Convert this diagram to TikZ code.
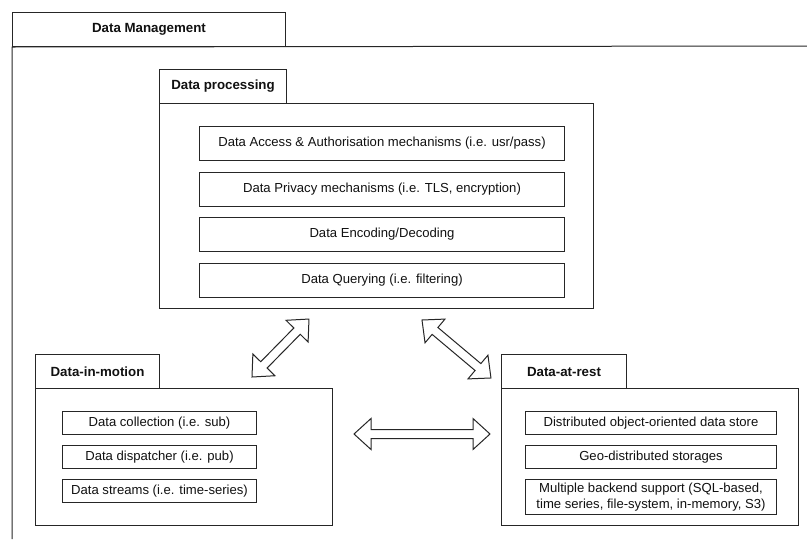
\documentclass[tikz,border=0pt]{standalone}
\usepackage{fontspec}
\setmainfont{Liberation Sans}
\usetikzlibrary{calc}
\definecolor{lineclr}{HTML}{262626}
\definecolor{textclr}{HTML}{111111}

% rectangle given by its top-left corner, width and height (y grows downwards)
\newcommand\boxat[7][]{%
  \node[frame, #1, anchor=north west, minimum width=#5pt, minimum height=#6pt]
    (#2) at (#3,#4) {#7};}

% hollow two-headed block arrow between two named coordinates
\newcommand\blockarrow[2]{%
  \draw[arrowshape] let \p1=($(#2)-(#1)$), \n1={atan2(\y1,\x1)}, \n2={veclen(\x1,\y1)} in
    [shift={(#1)}, rotate=\n1, y=1pt]
    (0,0) -- (17,15.5) -- (17,4.5) -- (\n2-17,4.5) -- (\n2-17,15.5) -- (\n2,0)
    -- (\n2-17,-15.5) -- (\n2-17,-4.5) -- (17,-4.5) -- (17,-15.5) -- cycle;}

\begin{document}
\begin{tikzpicture}[x=1pt, y=-1pt,
    font=\fontsize{13.1}{16.5}\selectfont, text=textclr,
    frame/.style={draw=lineclr, line width=1pt, fill=white, inner sep=0pt},
    tab/.style={font=\fontsize{13.3}{16}\selectfont\bfseries},
    arrowshape/.style={draw=lineclr, line width=1pt, fill=white, line join=miter}]
\useasboundingbox (0,0) rectangle (807,539);

% outer package: Data Management
\boxat[tab]{dmtab}{12}{12}{273}{34}{Data Management}
\coordinate (dmright) at (807,46);
\coordinate (dmbottom) at (12,539);
\draw[lineclr, line width=1pt] (dmright) -- (dmtab.south west) -- (dmbottom);

% Data processing package
\boxat[tab]{dptab}{159}{69}{127}{34}{Data processing}
\boxat{dp}{159}{103}{434}{205}{}
\boxat{dp1}{199}{126}{365}{34}{Data Access \& Authorisation mechanisms (i.e. usr/pass)}
\boxat{dp2}{199}{172}{365}{34}{Data Privacy mechanisms (i.e. TLS, encryption)}
\boxat{dp3}{199}{217}{365}{34}{Data Encoding/Decoding}
\boxat{dp4}{199}{263}{365}{34}{Data Querying (i.e. filtering)}

% Data-in-motion package
\boxat[tab]{dmotab}{35}{354}{124}{34}{Data-in-motion}
\boxat{dmo}{35}{388}{297}{137}{}
\boxat{dmo1}{62}{411}{194}{23}{Data collection (i.e. sub)}
\boxat{dmo2}{62}{445}{194}{23}{Data dispatcher (i.e. pub)}
\boxat{dmo3}{62}{479}{194}{23}{Data streams (i.e. time-series)}

% Data-at-rest package
\boxat[tab]{dartab}{501}{354}{125}{34}{Data-at-rest}
\boxat{dar}{501}{388}{297}{137}{}
\boxat{dar1}{525}{411}{251}{23}{Distributed object-oriented data store}
\boxat{dar2}{525}{445}{251}{23}{Geo-distributed storages}
\boxat[align=center]{dar3}{525}{479}{251}{35}{Multiple backend support (SQL-based,\\time series, file-system, in-memory, S3)}

% arrow end points between the packages
\coordinate (a1s) at (252,377);
\coordinate (a1e) at (309,319);
\coordinate (a2s) at (422,320);
\coordinate (a2e) at (491,378);
\coordinate (a3s) at (354,434);
\coordinate (a3e) at (490,434);
\blockarrow{a1s}{a1e}
\blockarrow{a2s}{a2e}
\blockarrow{a3s}{a3e}
\end{tikzpicture}
\end{document}
